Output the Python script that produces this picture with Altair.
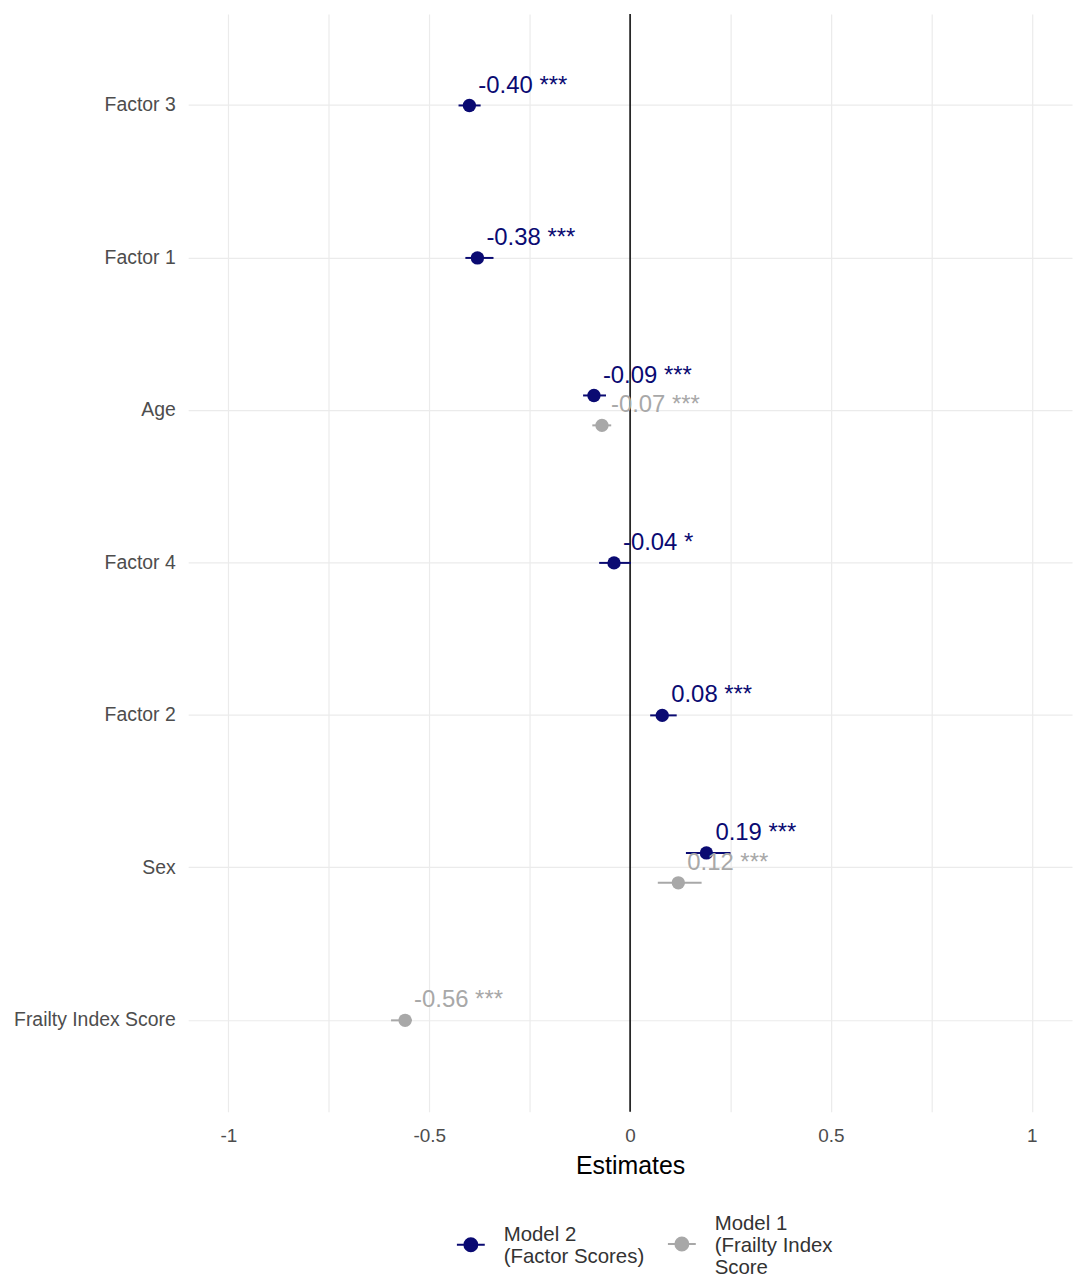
import altair as alt
import pandas as pd

M2 = "Model 2\n (Factor Scores)"
M1 = "Model 1\n(Frailty Index\nScore"

categories = ["Factor 3", "Factor 1", "Age", "Factor 4", "Factor 2", "Sex", "Frailty Index Score"]
terms = ["Factor 3", "Factor 1", "Age", "Factor 4", "Factor 2", "Sex", "Age", "Sex", "Frailty Index Score"]
models = [M2, M2, M2, M2, M2, M2, M1, M1, M1]
estimates = [-0.40, -0.38, -0.09, -0.04, 0.08, 0.19, -0.07, 0.12, -0.56]
ci_low = [-0.427, -0.41, -0.117, -0.077, 0.05, 0.139, -0.094, 0.069, -0.595]
ci_high = [-0.372, -0.34, -0.06, 0.002, 0.116, 0.25, -0.047, 0.178, -0.543]
stars = ["***", "***", "***", "*", "***", "***", "***", "***", "***"]
dodge = ["mid", "mid", "up", "mid", "mid", "up", "down", "down", "mid"]
dodge_slots = ["s0", "s1", "s2", "up", "mid", "down", "s6", "s7", "s8"]

df = pd.DataFrame({
    "term": terms, "model": models, "est": estimates,
    "lo": ci_low, "hi": ci_high, "stars": stars, "dodge": dodge,
})
df["label"] = df["est"].map(lambda v: f"{v:.2f}") + " " + df["stars"]

NAVY = "#0a0a72"
GRAY = "#a8a8a8"
FONT = "Liberation Sans"

x_ticks = [-1, -0.75, -0.5, -0.25, 0, 0.25, 0.5, 0.75, 1]


def legend_symbol(dy):
    return (f"M -1.4 {dy} L 1.4 {dy} M 0.65 {dy} A 0.65 0.65 0 1 1 -0.65 {dy} "
            f"A 0.65 0.65 0 1 1 0.65 {dy}")


legend = alt.Legend(
    title=None, orient="none", direction="horizontal",
    legendX=273, legendY=1204,
    labelExpr="split(datum.label, '\\n')",
    labelFontSize=20.5, labelColor="#333333", labelFont=FONT,
    symbolSize=400, symbolStrokeWidth=2, symbolOpacity=1,
    columnPadding=19, labelOffset=22, labelBaseline="middle", labelLimit=300,
)

xscale = alt.Scale(domain=[-1.1, 1.1], nice=False, zero=False)
yscale = alt.Scale(domain=categories, paddingInner=0, paddingOuter=0.1)
offscale = alt.Scale(domain=dodge_slots, paddingInner=0, paddingOuter=0.6)
cscale = alt.Scale(domain=[M2, M1], range=[NAVY, GRAY])
color = alt.Color("model:N", scale=cscale, legend=legend)
shape = alt.Shape("model:N",
                  scale=alt.Scale(domain=[M2, M1],
                                  range=[legend_symbol(1.0), legend_symbol(2.05)]),
                  legend=legend)

base = alt.Chart(df).encode(
    y=alt.Y("term:N", scale=yscale, sort=categories,
            axis=alt.Axis(title=None, grid=True, ticks=False, domain=False,
                          bandPosition=0.5, gridColor="#ebebeb", gridWidth=1.2,
                          labelFontSize=19.5, labelColor="#4d4d4d",
                          labelFont=FONT, labelPadding=13)),
    yOffset=alt.YOffset("dodge:N", scale=offscale),
)

xaxis = alt.Axis(values=x_ticks, title="Estimates", grid=True, ticks=False, domain=False,
                 gridColor="#ebebeb", gridWidth=1.2,
                 labelExpr="abs(datum.value * 2 - round(datum.value * 2)) < 0.001 ? '' + datum.value : ''",
                 labelFontSize=19, labelColor="#4d4d4d", labelFont=FONT,
                 labelPadding=15, titleFontSize=25, titleFont=FONT,
                 titleFontWeight="normal", titleColor="#000000", titlePadding=8)

zero = alt.Chart(pd.DataFrame({"z": [0]})).mark_rule(color="black", strokeWidth=1.5).encode(
    x=alt.X("z:Q", scale=xscale, axis=xaxis)
)

bars = base.mark_rule(strokeWidth=2).encode(
    x=alt.X("lo:Q", scale=xscale, axis=xaxis),
    x2="hi:Q",
    color=color,
)

points = base.mark_circle(size=180, opacity=1).encode(
    x=alt.X("est:Q", scale=xscale, axis=xaxis),
    color=color,
)

legend_layer = base.mark_point(filled=True, opacity=0).encode(
    x=alt.X("est:Q", scale=xscale, axis=xaxis),
    color=color,
    shape=shape,
)

texts = base.mark_text(align="left", baseline="middle", dx=9, dy=-20,
                       fontSize=24, font=FONT).encode(
    x=alt.X("est:Q", scale=xscale, axis=xaxis),
    text="label:N",
    color=color,
)

chart = alt.layer(zero, bars, points, legend_layer, texts).properties(
    width=888, height=1103, padding={"top": 2, "left": 5, "right": 5, "bottom": 5}
).configure(background="white").configure_view(stroke=None)

chart.save("out.html", embed_options={"renderer": "svg", "actions": False})
